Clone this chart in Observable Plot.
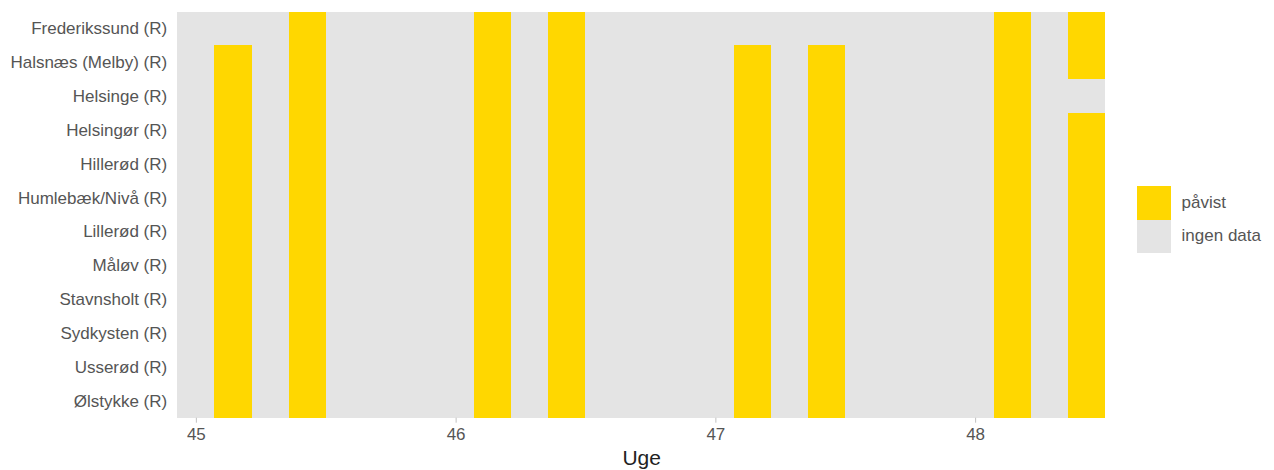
<!DOCTYPE html>
<html><head><meta charset="utf-8">
<script src="https://cdn.jsdelivr.net/npm/d3@7"></script>
<script src="https://cdn.jsdelivr.net/npm/@observablehq/plot@0.6"></script>
<style>
body{margin:0;background:#fff;font-family:"Liberation Sans",Arial,sans-serif;}
#wrap{position:relative;width:1274px;height:470px;}
#wrap svg{display:block;}
#legend{position:absolute;left:1137px;top:186px;}
.row{display:flex;align-items:center;height:33.6px;}
.sw{width:33.6px;height:33.6px;}
.lab{margin-left:11px;font-size:17px;color:#555;}
</style></head><body><div id="wrap"><div id="legend"></div></div>
<script>
// Sites (y categories, top to bottom)
const sites = [
  "Frederikssund (R)", "Halsnæs (Melby) (R)", "Helsinge (R)", "Helsingør (R)",
  "Hillerød (R)", "Humlebæk/Nivå (R)", "Lillerød (R)", "Måløv (R)",
  "Stavnsholt (R)", "Sydkysten (R)", "Usserød (R)", "Ølstykke (R)"
];
// Sampling days: ISO week and weekday offset from Monday (0 = Mon)
const sampleWeeks = [45, 45, 46, 46, 47, 47, 48, 48];
const sampleWeekdays = [1, 3, 1, 3, 1, 3, 1, 3];
// 1 = påvist, 0 = ingen data, per site per sampling day
const fredStatus   = [0, 1, 1, 1, 0, 0, 1, 1];
const halsStatus   = [1, 1, 1, 1, 1, 1, 1, 1];
const helsiStatus  = [1, 1, 1, 1, 1, 1, 1, 0];
const helsoStatus  = [1, 1, 1, 1, 1, 1, 1, 1];
const hillStatus   = [1, 1, 1, 1, 1, 1, 1, 1];
const humlStatus   = [1, 1, 1, 1, 1, 1, 1, 1];
const lillStatus   = [1, 1, 1, 1, 1, 1, 1, 1];
const maalStatus   = [1, 1, 1, 1, 1, 1, 1, 1];
const stavStatus   = [1, 1, 1, 1, 1, 1, 1, 1];
const sydkStatus   = [1, 1, 1, 1, 1, 1, 1, 1];
const usseStatus   = [1, 1, 1, 1, 1, 1, 1, 1];
const olstStatus   = [1, 1, 1, 1, 1, 1, 1, 1];
const statusRows = [fredStatus, halsStatus, helsiStatus, helsoStatus, hillStatus, humlStatus,
  lillStatus, maalStatus, stavStatus, sydkStatus, usseStatus, olstStatus];
// Observation period (first and last day shown)
const periodStartWeek = 45, periodStartWeekday = 0;
const periodEndWeek = 48, periodEndWeekday = 3;
// Legend & ticks
const statusLabels = ["påvist", "ingen data"];
const statusColors = ["#FFD700", "#E4E4E4"];
const xTicks = [45, 46, 47, 48];

const pos = (w, d) => w + d / 7;
const half = 0.5 / 7;

const background = sites.map(s => ({
  site: s,
  x1: pos(periodStartWeek, periodStartWeekday) - half,
  x2: pos(periodEndWeek, periodEndWeekday) + half
}));
const detected = [];
sites.forEach((s, i) => {
  statusRows[i].forEach((v, j) => {
    if (v === 1) {
      const c = pos(sampleWeeks[j], sampleWeekdays[j]);
      detected.push({site: s, x1: c - half, x2: c + half, status: statusLabels[0]});
    }
  });
});

const chart = Plot.plot({
  width: 1274,
  height: 470,
  marginLeft: 177.3,
  marginRight: 169,
  marginTop: 11.5,
  marginBottom: 52.3,
  style: {fontFamily: '"Liberation Sans", Arial, sans-serif', fontSize: "17px", background: "#fff"},
  x: {type: "linear", domain: [pos(periodStartWeek, periodStartWeekday) - half, pos(periodEndWeek, periodEndWeekday) + half]},
  y: {type: "band", domain: sites, padding: 0, round: false},
  color: {domain: statusLabels, range: statusColors},
  marks: [
    Plot.barX(background, {x1: "x1", x2: "x2", y: "site", fill: statusColors[1], inset: 0, shapeRendering: "crispEdges"}),
    Plot.barX(detected, {x1: "x1", x2: "x2", y: "site", fill: "status", inset: 0, shapeRendering: "crispEdges"}),
    Plot.axisY({tickSize: 0, tickPadding: 10.6, label: null, color: "#555", fontSize: 17}),
    Plot.axisX({ticks: xTicks, tickFormat: d => String(d), tickSize: 5, tickPadding: 5, label: null,
      stroke: "#c0c0c0", color: "#555", fill: "#555", fontSize: 17}),
    Plot.text(["Uge"], {frameAnchor: "bottom", dy: 40, lineAnchor: "middle", fontSize: 21, fill: "#222"})
  ]
});
document.getElementById("wrap").prepend(chart);

const legend = document.getElementById("legend");
statusLabels.forEach((lab, i) => {
  const row = document.createElement("div");
  row.className = "row";
  const sw = document.createElement("div");
  sw.className = "sw";
  sw.style.background = statusColors[i];
  const t = document.createElement("span");
  t.className = "lab";
  t.textContent = lab;
  row.append(sw, t);
  legend.append(row);
});
</script>
</body></html>
